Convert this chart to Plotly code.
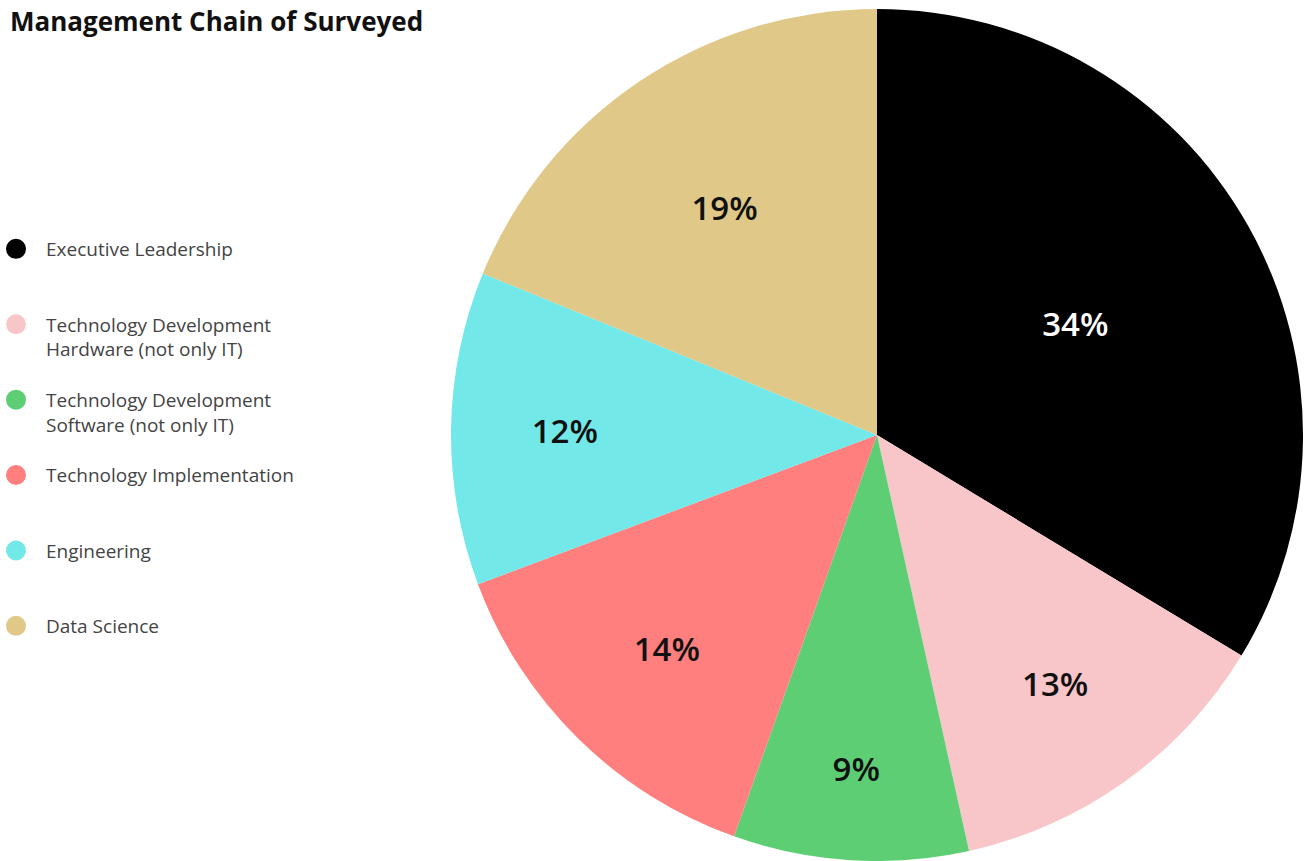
import plotly.graph_objects as go

# Survey breakdown by management chain
categories = [
    "Executive Leadership",
    "Technology Development<br>Hardware (not only IT)",
    "Technology Development<br>Software (not only IT)",
    "Technology Implementation",
    "Engineering",
    "Data Science",
]
shares = [34, 13, 9, 14, 12, 19]
colors = ["#000000", "#f8c6c8", "#5dce74", "#ff7f7f", "#73e8e8", "#e0c889"]
label_colors = ["#ffffff", "#111111", "#111111", "#111111", "#111111", "#111111"]

W, H = 1309, 861

fig = go.Figure()

fig.add_trace(go.Pie(
    labels=categories,
    values=shares,
    sort=False,
    direction="clockwise",
    rotation=0,
    marker=dict(colors=colors, line=dict(width=0)),
    textinfo="percent",
    texttemplate="%{percent:.0%}",
    textposition="inside",
    insidetextorientation="horizontal",
    textfont=dict(family="Open Sans", size=33, color=label_colors, weight=600),
    hoverinfo="label+percent",
    showlegend=False,
    domain=dict(x=[451 / W, 1303 / W], y=[0, 852 / H]),
))

# Legend entries with round swatches; every name padded to two lines so rows are evenly spaced
for name, col in zip(categories, colors):
    label = name if "<br>" in name else name + "<br>\u00a0"
    fig.add_trace(go.Scatter(
        x=[None], y=[None], mode="markers", name=label,
        marker=dict(symbol="circle", size=16, color=col,
                    line=dict(color=col, width=4)),
        legendgroup=name, showlegend=True, hoverinfo="skip",
    ))

fig.update_layout(
    width=W, height=H,
    margin=dict(l=0, r=0, t=0, b=0, autoexpand=False),
    paper_bgcolor="#ffffff",
    plot_bgcolor="#ffffff",
    xaxis=dict(visible=False),
    yaxis=dict(visible=False),
    title=dict(
        text="<b>Management Chain of Surveyed</b>",
        x=10 / W, xanchor="left", xref="paper",
        y=1 - 22 / H, yanchor="middle", yref="container",
        font=dict(family="Open Sans", size=26, color="#111111"),
    ),
    legend=dict(
        x=-14 / W, xanchor="left", y=1 - 230 / H, yanchor="top",
        valign="top",
        font=dict(family="Open Sans", size=19, color="#444444"),
        tracegroupgap=23,
        itemwidth=50,
        bgcolor="rgba(0,0,0,0)",
    ),
)

fig.write_html("out.html")
